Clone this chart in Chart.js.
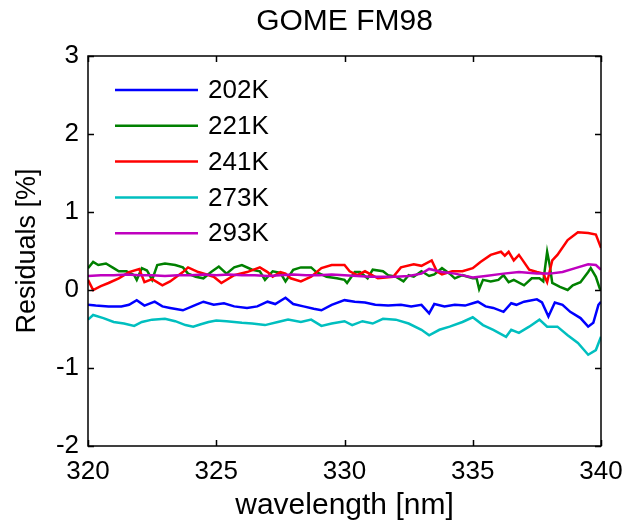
<!DOCTYPE html>
<html>
<head>
<meta charset="utf-8">
<script src="https://cdn.jsdelivr.net/npm/chart.js@4/dist/chart.umd.min.js"></script>
<style>
  html, body { margin: 0; padding: 0; background: #fff; }
  #wrap { width: 626px; height: 528px; }
</style>
</head>
<body>
<div id="wrap"><canvas id="resChart" width="626" height="528"></canvas></div>
<script>
// wavelength [nm] and residuals [%]
const labels = ["202K", "221K", "241K", "273K", "293K"];
const colors = ["#0000ff", "#008000", "#ff0000", "#00bfbf", "#bf00bf"];

const wl202 = [320, 320.3, 320.8, 321.3, 321.6, 321.9, 322.2, 322.6, 322.9, 323.2, 323.7, 324.2, 324.5, 324.9, 325.3, 325.7, 326.2, 326.6, 327, 327.3, 327.7, 328, 328.4, 328.8, 329.1, 329.5, 330, 330.4, 330.8, 331.2, 331.7, 332.2, 332.6, 333, 333.3, 333.5, 333.9, 334.3, 334.7, 335, 335.2, 335.5, 335.8, 336.2, 336.5, 336.7, 337, 337.5, 337.7, 337.95, 338.2, 338.5, 338.8, 339.2, 339.5, 339.7, 339.9, 340];
const res202 = [-0.19, -0.2, -0.21, -0.21, -0.19, -0.13, -0.2, -0.15, -0.21, -0.23, -0.26, -0.19, -0.15, -0.19, -0.17, -0.21, -0.23, -0.21, -0.15, -0.18, -0.1, -0.18, -0.21, -0.24, -0.26, -0.19, -0.13, -0.15, -0.16, -0.19, -0.2, -0.19, -0.21, -0.19, -0.3, -0.18, -0.21, -0.19, -0.2, -0.17, -0.15, -0.21, -0.23, -0.28, -0.17, -0.19, -0.15, -0.12, -0.16, -0.34, -0.16, -0.19, -0.28, -0.36, -0.47, -0.42, -0.19, -0.15];

const wl221 = [320, 320.2, 320.4, 320.7, 321, 321.2, 321.5, 321.8, 321.9, 322.1, 322.3, 322.5, 322.7, 323, 323.4, 323.7, 323.9, 324.2, 324.5, 324.8, 325.1, 325.4, 325.7, 326, 326.4, 326.7, 326.9, 327.2, 327.5, 327.7, 328, 328.3, 328.7, 328.9, 329.3, 329.7, 330, 330.1, 330.4, 330.6, 330.9, 331.1, 331.5, 331.7, 332, 332.3, 332.5, 332.7, 333, 333.3, 333.5, 333.8, 334.1, 334.3, 334.6, 335, 335.15, 335.25, 335.4, 335.7, 336, 336.2, 336.4, 336.6, 337, 337.3, 337.6, 337.75, 337.9, 338, 338.1, 338.4, 338.7, 338.9, 339.2, 339.5, 339.6, 339.8, 339.95, 340];
const res221 = [0.28, 0.36, 0.32, 0.34, 0.28, 0.24, 0.24, 0.19, 0.13, 0.28, 0.25, 0.13, 0.32, 0.34, 0.32, 0.29, 0.21, 0.17, 0.15, 0.23, 0.3, 0.21, 0.29, 0.32, 0.26, 0.24, 0.13, 0.24, 0.22, 0.11, 0.26, 0.29, 0.29, 0.23, 0.17, 0.15, 0.13, 0.09, 0.23, 0.23, 0.15, 0.26, 0.24, 0.19, 0.17, 0.11, 0.19, 0.17, 0.24, 0.18, 0.2, 0.28, 0.21, 0.15, 0.19, 0.15, 0.15, 0.01, 0.13, 0.11, 0.13, 0.19, 0.1, 0.13, 0.06, 0.15, 0.15, 0.11, 0.49, 0.32, 0.09, 0.04, 0.0, 0.06, 0.1, 0.23, 0.28, 0.17, 0.02, 0.0];

const wl241 = [320, 320.2, 320.5, 320.8, 321.2, 321.6, 322, 322.2, 322.5, 322.9, 323.2, 323.7, 323.9, 324.3, 324.9, 325.2, 325.7, 326.2, 326.7, 327, 327.2, 327.5, 327.7, 327.9, 328.3, 328.7, 329.1, 329.5, 330, 330.2, 330.5, 330.8, 331.3, 331.9, 332.2, 332.7, 333, 333.4, 333.6, 333.8, 334.2, 334.6, 335, 335.3, 335.7, 336.1, 336.25, 336.4, 336.6, 336.8, 336.95, 337.2, 337.5, 337.75, 337.9, 338.1, 338.3, 338.7, 339.1, 339.5, 339.8, 340];
const res241 = [0.13, 0.0, 0.05, 0.09, 0.15, 0.23, 0.27, 0.1, 0.14, 0.06, 0.11, 0.23, 0.29, 0.23, 0.17, 0.09, 0.19, 0.23, 0.29, 0.23, 0.17, 0.23, 0.21, 0.15, 0.11, 0.17, 0.28, 0.32, 0.32, 0.24, 0.19, 0.24, 0.15, 0.17, 0.29, 0.33, 0.31, 0.38, 0.24, 0.2, 0.24, 0.24, 0.28, 0.36, 0.45, 0.49, 0.44, 0.49, 0.38, 0.45, 0.38, 0.26, 0.23, 0.21, 0.1, 0.38, 0.45, 0.64, 0.74, 0.73, 0.71, 0.54];

const wl273 = [320, 320.2, 320.6, 321, 321.4, 321.8, 322.1, 322.5, 323, 323.4, 323.8, 324.1, 324.4, 324.7, 325, 325.4, 326, 326.4, 326.9, 327.4, 327.8, 328.3, 328.7, 329.1, 329.5, 330, 330.3, 330.7, 331.1, 331.5, 332, 332.5, 333, 333.3, 333.7, 334.1, 334.6, 335, 335.4, 335.8, 336.3, 336.5, 336.8, 337.2, 337.6, 337.9, 338.3, 338.7, 339.1, 339.5, 339.8, 340];
const res273 = [-0.38, -0.32, -0.36, -0.41, -0.43, -0.46, -0.41, -0.38, -0.37, -0.4, -0.45, -0.47, -0.44, -0.41, -0.39, -0.4, -0.42, -0.43, -0.45, -0.41, -0.38, -0.41, -0.38, -0.46, -0.43, -0.4, -0.45, -0.4, -0.43, -0.37, -0.38, -0.43, -0.51, -0.58, -0.51, -0.47, -0.41, -0.35, -0.45, -0.51, -0.6, -0.51, -0.55, -0.47, -0.38, -0.47, -0.47, -0.58, -0.68, -0.83, -0.77, -0.6];

const wl293 = [320, 320.5, 321, 321.5, 322, 322.5, 323, 323.5, 324, 324.5, 325, 325.5, 326, 326.5, 327, 327.5, 328, 328.5, 329, 329.5, 330, 330.5, 331, 331.5, 332, 332.5, 333, 333.3, 333.8, 334.3, 335, 335.5, 336.2, 336.8, 337.5, 338, 338.5, 339, 339.5, 339.8, 340];
const res293 = [0.18, 0.19, 0.19, 0.2, 0.19, 0.19, 0.18, 0.19, 0.19, 0.2, 0.19, 0.2, 0.19, 0.19, 0.18, 0.19, 0.2, 0.19, 0.19, 0.2, 0.19, 0.18, 0.17, 0.17, 0.17, 0.18, 0.21, 0.27, 0.23, 0.21, 0.16, 0.18, 0.21, 0.23, 0.21, 0.21, 0.23, 0.28, 0.33, 0.32, 0.26];

const xTicks = [320, 325, 330, 335, 340];
const yTicks = [-2, -1, 0, 1, 2, 3];

const FONT = "'Liberation Sans', Arial, sans-serif";

function toPoints(xs, ys) {
  return xs.map((x, i) => ({ x: x, y: ys[i] }));
}

const series = [[wl202, res202], [wl221, res221], [wl241, res241], [wl273, res273], [wl293, res293]];

const datasets = series.map((s, i) => ({
  label: labels[i],
  data: toPoints(s[0], s[1]),
  borderColor: colors[i],
  backgroundColor: colors[i],
  borderWidth: 2.5,
  pointRadius: 0,
  tension: 0,
  fill: false,
  order: series.length - i
}));

// MATLAB style box, inward ticks and legend
const boxPlugin = {
  id: "boxPlugin",
  afterDraw(chart) {
    const { ctx, chartArea: a, scales } = chart;
    const x = scales.x, y = scales.y;
    const tl = 6;
    ctx.save();
    ctx.strokeStyle = "#000";
    ctx.lineWidth = 1.5;
    ctx.strokeRect(a.left, a.top, a.right - a.left, a.bottom - a.top);
    ctx.beginPath();
    xTicks.forEach((v) => {
      const px = Math.round(x.getPixelForValue(v)) + 0.5;
      ctx.moveTo(px, a.bottom); ctx.lineTo(px, a.bottom - tl);
      ctx.moveTo(px, a.top); ctx.lineTo(px, a.top + tl);
    });
    yTicks.forEach((v) => {
      const py = Math.round(y.getPixelForValue(v)) + 0.5;
      ctx.moveTo(a.left, py); ctx.lineTo(a.left + tl, py);
      ctx.moveTo(a.right, py); ctx.lineTo(a.right - tl, py);
    });
    ctx.stroke();

    // legend
    ctx.font = "26px " + FONT;
    ctx.textBaseline = "middle";
    ctx.textAlign = "left";
    chart.data.datasets.forEach((ds, i) => {
      const ly = a.top + 34 + i * 35.8;
      ctx.strokeStyle = ds.borderColor;
      ctx.lineWidth = 2.5;
      ctx.beginPath();
      ctx.moveTo(a.left + 27, ly);
      ctx.lineTo(a.left + 110, ly);
      ctx.stroke();
      ctx.fillStyle = "#000";
      ctx.fillText(ds.label, a.left + 120, ly + 1);
    });
    ctx.restore();
  }
};

new Chart(document.getElementById("resChart"), {
  type: "line",
  data: { datasets: datasets },
  plugins: [boxPlugin],
  options: {
    responsive: false,
    animation: false,
    layout: { padding: { left: 0, right: 25, top: 0, bottom: 0 } },
    plugins: {
      legend: { display: false },
      tooltip: { enabled: false },
      title: {
        display: true,
        fullSize: false,
        text: "GOME FM98",
        color: "#000",
        font: { family: FONT, size: 30, weight: "normal" },
        padding: { top: 4, bottom: 16 }
      }
    },
    scales: {
      x: {
        type: "linear",
        min: 320,
        max: 340,
        afterFit: (s) => { s.height = 82; s.paddingLeft = 0; s.paddingRight = 0; },
        afterBuildTicks: (s) => { s.ticks = xTicks.map((v) => ({ value: v })); },
        grid: { display: false, drawTicks: false },
        border: { display: false },
        ticks: { color: "#000", padding: 10, maxRotation: 0, font: { family: FONT, size: 26 } },
        title: {
          display: true,
          text: "wavelength [nm]",
          color: "#000",
          font: { family: FONT, size: 30 },
          padding: { top: 0, bottom: 4 }
        }
      },
      y: {
        min: -2,
        max: 3,
        afterFit: (s) => { s.width = 88; s.paddingTop = 0; s.paddingBottom = 0; },
        afterBuildTicks: (s) => { s.ticks = yTicks.map((v) => ({ value: v })); },
        grid: { display: false, drawTicks: false },
        border: { display: false },
        ticks: { color: "#000", padding: 9, font: { family: FONT, size: 26 } },
        title: {
          display: true,
          text: "Residuals [%]",
          color: "#000",
          font: { family: FONT, size: 27 },
          padding: { top: 11, bottom: 0 }
        }
      }
    }
  }
});
</script>
</body>
</html>
